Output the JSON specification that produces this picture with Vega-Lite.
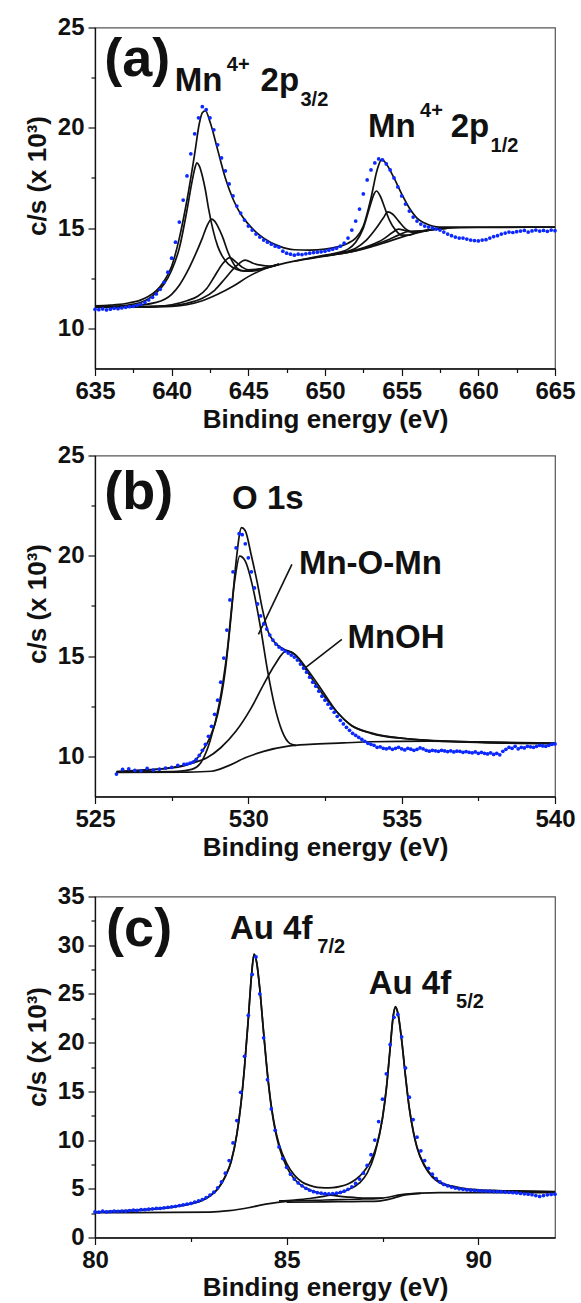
{
  "$schema": "https://vega.github.io/schema/vega-lite/v6.json",
  "padding": {"left": 23, "top": 14.5, "right": 5, "bottom": 2},
  "spacing": 9,
  "bounds": "full",
  "config": {
    "font": "Liberation Sans",
    "view": {"stroke": "#555555", "strokeWidth": 1.2},
    "axis": {
      "labelFont": "Liberation Sans", "labelFontSize": 24, "labelFontWeight": "bold", "labelColor": "#111111",
      "titleFont": "Liberation Sans", "titleFontSize": 26, "titleFontWeight": "bold", "titleColor": "#111111",
      "domainColor": "#111111", "domainWidth": 1.3, "tickColor": "#111111", "tickWidth": 1.2,
      "grid": false, "labelOverlap": false, "labelFlush": false, "labelPadding": 4
    }
  },
  "datasets": {
    "a_fit": [
      {"s":"env","x":635,"y":11.12},{"s":"env","x":636,"y":11.16},{"s":"env","x":637,"y":11.24},{"s":"env","x":638,"y":11.42},{"s":"env","x":638.5,"y":11.6},{"s":"env","x":639,"y":11.88},{"s":"env","x":639.5,"y":12.35},{"s":"env","x":640,"y":13.1},{"s":"env","x":640.5,"y":14.5},{"s":"env","x":641,"y":16.4},{"s":"env","x":641.5,"y":18.7},{"s":"env","x":641.8,"y":20.2},{"s":"env","x":642,"y":20.75},{"s":"env","x":642.2,"y":20.85},{"s":"env","x":642.5,"y":20.3},{"s":"env","x":643,"y":18.9},{"s":"env","x":643.5,"y":17.5},{"s":"env","x":644,"y":16.45},{"s":"env","x":644.5,"y":15.7},{"s":"env","x":645,"y":15.2},{"s":"env","x":645.5,"y":14.8},{"s":"env","x":646,"y":14.5},{"s":"env","x":647,"y":14.1},{"s":"env","x":648,"y":13.92},{"s":"env","x":649,"y":13.9},{"s":"env","x":650,"y":13.95},{"s":"env","x":651,"y":14.1},{"s":"env","x":651.5,"y":14.25},{"s":"env","x":652,"y":14.5},{"s":"env","x":652.5,"y":15.1},{"s":"env","x":653,"y":16.5},{"s":"env","x":653.4,"y":17.9},{"s":"env","x":653.7,"y":18.43},{"s":"env","x":654,"y":18.2},{"s":"env","x":654.5,"y":17.5},{"s":"env","x":655,"y":16.7},{"s":"env","x":655.5,"y":16.0},{"s":"env","x":656,"y":15.5},{"s":"env","x":656.5,"y":15.25},{"s":"env","x":657,"y":15.1},{"s":"env","x":657.5,"y":15.05},{"s":"env","x":658,"y":15.05},{"s":"env","x":665,"y":15.05},
      {"s":"bg","x":635,"y":11.05},{"s":"bg","x":638,"y":11.06},{"s":"bg","x":640,"y":11.1},{"s":"bg","x":641,"y":11.18},{"s":"bg","x":642,"y":11.38},{"s":"bg","x":643,"y":11.7},{"s":"bg","x":644,"y":12.1},{"s":"bg","x":645,"y":12.58},{"s":"bg","x":646,"y":12.95},{"s":"bg","x":647,"y":13.18},{"s":"bg","x":648,"y":13.35},{"s":"bg","x":649,"y":13.48},{"s":"bg","x":650,"y":13.6},{"s":"bg","x":651,"y":13.72},{"s":"bg","x":652,"y":13.86},{"s":"bg","x":653,"y":14.06},{"s":"bg","x":654,"y":14.3},{"s":"bg","x":655,"y":14.55},{"s":"bg","x":656,"y":14.76},{"s":"bg","x":657,"y":14.92},{"s":"bg","x":658,"y":15.0},{"s":"bg","x":660,"y":15.03},{"s":"bg","x":665,"y":15.05},
      {"s":"c1","x":635,"y":11.08},{"s":"c1","x":636,"y":11.1},{"s":"c1","x":637,"y":11.15},{"s":"c1","x":638,"y":11.3},{"s":"c1","x":638.5,"y":11.48},{"s":"c1","x":639,"y":11.78},{"s":"c1","x":639.5,"y":12.2},{"s":"c1","x":640,"y":12.9},{"s":"c1","x":640.5,"y":14.0},{"s":"c1","x":641,"y":15.9},{"s":"c1","x":641.3,"y":17.2},{"s":"c1","x":641.5,"y":17.95},{"s":"c1","x":641.65,"y":18.25},{"s":"c1","x":641.8,"y":18.1},{"s":"c1","x":642,"y":17.6},{"s":"c1","x":642.2,"y":16.9},{"s":"c1","x":642.4,"y":16.0},{"s":"c1","x":642.7,"y":14.9},{"s":"c1","x":643,"y":14.1},{"s":"c1","x":643.3,"y":13.6},{"s":"c1","x":643.7,"y":13.2},{"s":"c1","x":644.2,"y":12.95},{"s":"c1","x":644.8,"y":12.85},{"s":"c1","x":645.5,"y":12.9},{"s":"c1","x":646.2,"y":13.02},{"s":"c1","x":647,"y":13.2},
      {"s":"c2","x":635,"y":11.06},{"s":"c2","x":637,"y":11.1},{"s":"c2","x":639,"y":11.3},{"s":"c2","x":640,"y":11.7},{"s":"c2","x":640.5,"y":12.15},{"s":"c2","x":641,"y":12.8},{"s":"c2","x":641.5,"y":13.6},{"s":"c2","x":642,"y":14.5},{"s":"c2","x":642.3,"y":15.1},{"s":"c2","x":642.6,"y":15.45},{"s":"c2","x":642.8,"y":15.35},{"s":"c2","x":643,"y":15.1},{"s":"c2","x":643.3,"y":14.6},{"s":"c2","x":643.7,"y":13.75},{"s":"c2","x":644.1,"y":13.15},{"s":"c2","x":644.6,"y":12.88},{"s":"c2","x":645.2,"y":12.85},{"s":"c2","x":646,"y":13.0},{"s":"c2","x":647,"y":13.2},
      {"s":"c3","x":636,"y":11.05},{"s":"c3","x":639,"y":11.1},{"s":"c3","x":640,"y":11.18},{"s":"c3","x":641,"y":11.38},{"s":"c3","x":641.7,"y":11.6},{"s":"c3","x":642.3,"y":12.0},{"s":"c3","x":642.8,"y":12.6},{"s":"c3","x":643.3,"y":13.2},{"s":"c3","x":643.8,"y":13.53},{"s":"c3","x":644.2,"y":13.3},{"s":"c3","x":644.6,"y":13.05},{"s":"c3","x":645,"y":12.92},{"s":"c3","x":645.6,"y":12.95},{"s":"c3","x":646.3,"y":13.05},{"s":"c3","x":647,"y":13.2},
      {"s":"c4","x":636,"y":11.05},{"s":"c4","x":640,"y":11.13},{"s":"c4","x":641,"y":11.25},{"s":"c4","x":642,"y":11.5},{"s":"c4","x":642.8,"y":11.9},{"s":"c4","x":643.5,"y":12.5},{"s":"c4","x":644.2,"y":13.1},{"s":"c4","x":644.8,"y":13.4},{"s":"c4","x":645.3,"y":13.25},{"s":"c4","x":645.8,"y":13.15},{"s":"c4","x":646.4,"y":13.1},{"s":"c4","x":647,"y":13.2},
      {"s":"c5","x":648,"y":13.36},{"s":"c5","x":649,"y":13.5},{"s":"c5","x":650,"y":13.65},{"s":"c5","x":651,"y":13.8},{"s":"c5","x":651.5,"y":13.95},{"s":"c5","x":652,"y":14.3},{"s":"c5","x":652.5,"y":15.0},{"s":"c5","x":652.9,"y":16.0},{"s":"c5","x":653.2,"y":16.7},{"s":"c5","x":653.35,"y":16.85},{"s":"c5","x":653.6,"y":16.6},{"s":"c5","x":653.9,"y":16.0},{"s":"c5","x":654.2,"y":15.4},{"s":"c5","x":654.6,"y":14.9},{"s":"c5","x":655,"y":14.65},{"s":"c5","x":655.5,"y":14.65},{"s":"c5","x":656,"y":14.8},{"s":"c5","x":657,"y":14.93},{"s":"c5","x":658,"y":15.0},
      {"s":"c6","x":649,"y":13.5},{"s":"c6","x":650,"y":13.62},{"s":"c6","x":651,"y":13.76},{"s":"c6","x":652,"y":14.0},{"s":"c6","x":652.7,"y":14.4},{"s":"c6","x":653.3,"y":14.95},{"s":"c6","x":653.8,"y":15.5},{"s":"c6","x":654.1,"y":15.81},{"s":"c6","x":654.4,"y":15.7},{"s":"c6","x":654.8,"y":15.35},{"s":"c6","x":655.2,"y":15.0},{"s":"c6","x":655.7,"y":14.82},{"s":"c6","x":656.3,"y":14.85},{"s":"c6","x":657,"y":14.93},{"s":"c6","x":658,"y":15.0},
      {"s":"c7","x":650,"y":13.62},{"s":"c7","x":651,"y":13.74},{"s":"c7","x":652,"y":13.9},{"s":"c7","x":653,"y":14.15},{"s":"c7","x":653.8,"y":14.45},{"s":"c7","x":654.4,"y":14.78},{"s":"c7","x":654.8,"y":14.95},{"s":"c7","x":655.2,"y":14.88},{"s":"c7","x":655.7,"y":14.8},{"s":"c7","x":656.3,"y":14.85},{"s":"c7","x":657,"y":14.93},{"s":"c7","x":658,"y":15.0},
      {"s":"c8","x":650,"y":13.62},{"s":"c8","x":652,"y":13.88},{"s":"c8","x":653,"y":14.1},{"s":"c8","x":654,"y":14.38},{"s":"c8","x":654.8,"y":14.65},{"s":"c8","x":655.4,"y":14.83},{"s":"c8","x":655.9,"y":14.85},{"s":"c8","x":656.5,"y":14.85},{"s":"c8","x":657.2,"y":14.95},{"s":"c8","x":658,"y":15.0}
    ],
    "a_pts": [
      {"x":635,"y":10.95},{"x":635.25,"y":10.93},{"x":635.5,"y":10.97},{"x":635.75,"y":10.92},{"x":636,"y":10.96},{"x":636.25,"y":11.0},{"x":636.5,"y":10.98},{"x":636.75,"y":11.02},{"x":637,"y":11.05},{"x":637.25,"y":11.08},{"x":637.5,"y":11.1},{"x":637.75,"y":11.15},{"x":638,"y":11.2},{"x":638.25,"y":11.3},{"x":638.5,"y":11.42},{"x":638.75,"y":11.55},{"x":639,"y":11.72},{"x":639.25,"y":11.95},{"x":639.5,"y":12.3},{"x":639.75,"y":12.8},{"x":640,"y":13.5},{"x":640.25,"y":14.3},{"x":640.5,"y":15.3},{"x":640.75,"y":16.4},{"x":641,"y":17.6},{"x":641.25,"y":18.7},{"x":641.5,"y":19.7},{"x":641.75,"y":20.5},{"x":642,"y":21.05},{"x":642.25,"y":20.9},{"x":642.5,"y":20.5},{"x":642.75,"y":19.9},{"x":643,"y":19.15},{"x":643.25,"y":18.5},{"x":643.5,"y":17.85},{"x":643.75,"y":17.2},{"x":644,"y":16.6},{"x":644.25,"y":16.1},{"x":644.5,"y":15.75},{"x":644.75,"y":15.4},{"x":645,"y":15.1},{"x":645.25,"y":14.9},{"x":645.5,"y":14.7},{"x":645.75,"y":14.55},{"x":646,"y":14.4},{"x":646.25,"y":14.3},{"x":646.5,"y":14.2},{"x":646.75,"y":14.1},{"x":647,"y":14.05},{"x":647.25,"y":13.85},{"x":647.5,"y":13.75},{"x":647.75,"y":13.7},{"x":648,"y":13.65},{"x":648.25,"y":13.7},{"x":648.5,"y":13.68},{"x":648.75,"y":13.72},{"x":649,"y":13.75},{"x":649.25,"y":13.78},{"x":649.5,"y":13.8},{"x":649.75,"y":13.82},{"x":650,"y":13.85},{"x":650.25,"y":13.9},{"x":650.5,"y":13.95},{"x":650.75,"y":14.0},{"x":651,"y":14.1},{"x":651.25,"y":14.25},{"x":651.5,"y":14.5},{"x":651.75,"y":14.9},{"x":652,"y":15.35},{"x":652.25,"y":15.95},{"x":652.5,"y":16.7},{"x":652.75,"y":17.4},{"x":653,"y":17.9},{"x":653.25,"y":18.25},{"x":653.5,"y":18.45},{"x":653.75,"y":18.4},{"x":654,"y":18.2},{"x":654.25,"y":17.9},{"x":654.5,"y":17.5},{"x":654.75,"y":17.05},{"x":655,"y":16.6},{"x":655.25,"y":16.2},{"x":655.5,"y":15.85},{"x":655.75,"y":15.55},{"x":656,"y":15.35},{"x":656.25,"y":15.2},{"x":656.5,"y":15.1},{"x":656.75,"y":15.05},{"x":657,"y":15.0},{"x":657.25,"y":14.95},{"x":657.5,"y":14.9},{"x":657.75,"y":14.8},{"x":658,"y":14.7},{"x":658.25,"y":14.62},{"x":658.5,"y":14.55},{"x":658.75,"y":14.5},{"x":659,"y":14.5},{"x":659.25,"y":14.45},{"x":659.5,"y":14.4},{"x":659.75,"y":14.38},{"x":660,"y":14.36},{"x":660.25,"y":14.4},{"x":660.5,"y":14.42},{"x":660.75,"y":14.5},{"x":661,"y":14.58},{"x":661.25,"y":14.62},{"x":661.5,"y":14.7},{"x":661.75,"y":14.75},{"x":662,"y":14.8},{"x":662.25,"y":14.78},{"x":662.5,"y":14.82},{"x":662.75,"y":14.85},{"x":663,"y":14.88},{"x":663.25,"y":14.8},{"x":663.5,"y":14.86},{"x":663.75,"y":14.9},{"x":664,"y":14.85},{"x":664.25,"y":14.88},{"x":664.5,"y":14.84},{"x":664.75,"y":14.9},{"x":665,"y":14.87}
    ],
    "a_txt": [
      {"role":"tag","x":635.6,"y":22.57,"t":"(a)"},
      {"role":"main","x":640.2,"y":21.82,"t":"Mn"},{"role":"sup","x":643.6,"y":22.82,"t":"4+"},{"role":"main","x":645.8,"y":21.82,"t":"2p"},{"role":"sub","x":648.4,"y":21.08,"t":"3/2"},
      {"role":"main","x":652.8,"y":19.53,"t":"Mn"},{"role":"sup","x":656.2,"y":20.53,"t":"4+"},{"role":"main","x":658.2,"y":19.53,"t":"2p"},{"role":"sub","x":660.8,"y":18.78,"t":"1/2"}
    ],
    "b_fit": [
      {"s":"env","x":525.7,"y":9.24},{"s":"env","x":526.5,"y":9.32},{"s":"env","x":527.5,"y":9.42},{"s":"env","x":528,"y":9.58},{"s":"env","x":528.3,"y":9.85},{"s":"env","x":528.5,"y":10.25},{"s":"env","x":528.75,"y":10.95},{"s":"env","x":529,"y":12.1},{"s":"env","x":529.25,"y":14.3},{"s":"env","x":529.45,"y":17.2},{"s":"env","x":529.6,"y":19.7},{"s":"env","x":529.78,"y":21.4},{"s":"env","x":529.9,"y":21.25},{"s":"env","x":530.1,"y":20.0},{"s":"env","x":530.3,"y":18.6},{"s":"env","x":530.45,"y":17.4},{"s":"env","x":530.65,"y":16.2},{"s":"env","x":530.85,"y":15.7},{"s":"env","x":531.15,"y":15.35},{"s":"env","x":531.5,"y":15.1},{"s":"env","x":531.8,"y":14.5},{"s":"env","x":532.15,"y":13.7},{"s":"env","x":532.5,"y":12.95},{"s":"env","x":532.9,"y":12.2},{"s":"env","x":533.35,"y":11.55},{"s":"env","x":534,"y":11.15},{"s":"env","x":535.2,"y":10.87},{"s":"env","x":536.4,"y":10.75},{"s":"env","x":537.6,"y":10.69},{"s":"env","x":540,"y":10.64},
      {"s":"o1","x":525.7,"y":9.22},{"s":"o1","x":527.7,"y":9.26},{"s":"o1","x":528.15,"y":9.35},{"s":"o1","x":528.45,"y":9.68},{"s":"o1","x":528.75,"y":10.75},{"s":"o1","x":529.05,"y":12.6},{"s":"o1","x":529.3,"y":15.1},{"s":"o1","x":529.55,"y":18.7},{"s":"o1","x":529.72,"y":19.98},{"s":"o1","x":529.9,"y":19.73},{"s":"o1","x":530.15,"y":18.4},{"s":"o1","x":530.4,"y":16.4},{"s":"o1","x":530.63,"y":14.25},{"s":"o1","x":530.87,"y":12.43},{"s":"o1","x":531.1,"y":11.26},{"s":"o1","x":531.35,"y":10.65},{"s":"o1","x":531.55,"y":10.55},
      {"s":"o2","x":525.7,"y":9.23},{"s":"o2","x":527.3,"y":9.4},{"s":"o2","x":528.15,"y":9.66},{"s":"o2","x":528.65,"y":9.93},{"s":"o2","x":529.1,"y":10.43},{"s":"o2","x":529.6,"y":11.26},{"s":"o2","x":530.1,"y":12.43},{"s":"o2","x":530.5,"y":13.59},{"s":"o2","x":530.87,"y":14.58},{"s":"o2","x":531.23,"y":15.25},{"s":"o2","x":531.55,"y":15.05},{"s":"o2","x":531.9,"y":14.38},{"s":"o2","x":532.4,"y":13.3},{"s":"o2","x":532.9,"y":12.2},{"s":"o2","x":533.35,"y":11.55},{"s":"o2","x":534,"y":11.17},{"s":"o2","x":535.2,"y":10.88},{"s":"o2","x":537.6,"y":10.71},{"s":"o2","x":540,"y":10.65},
      {"s":"bg","x":525.7,"y":9.2},{"s":"bg","x":528,"y":9.22},{"s":"bg","x":528.8,"y":9.26},{"s":"bg","x":529.3,"y":9.5},{"s":"bg","x":529.9,"y":9.93},{"s":"bg","x":530.5,"y":10.25},{"s":"bg","x":531.3,"y":10.51},{"s":"bg","x":532,"y":10.6},{"s":"bg","x":533.1,"y":10.67},{"s":"bg","x":534,"y":10.73},{"s":"bg","x":535.9,"y":10.76},{"s":"bg","x":537.5,"y":10.72},{"s":"bg","x":540,"y":10.66}
    ],
    "b_pts": [
      {"x":525.7,"y":9.12},{"x":525.9,"y":9.35},{"x":526.1,"y":9.38},{"x":526.3,"y":9.3},{"x":526.5,"y":9.28},{"x":526.7,"y":9.4},{"x":526.9,"y":9.32},{"x":527.1,"y":9.36},{"x":527.3,"y":9.42},{"x":527.5,"y":9.45},{"x":527.7,"y":9.55},{"x":527.9,"y":9.6},
      {"x":528,"y":9.62},{"x":528.1,"y":9.66},{"x":528.2,"y":9.72},{"x":528.3,"y":9.85},{"x":528.4,"y":10.05},{"x":528.5,"y":10.3},{"x":528.6,"y":10.6},{"x":528.7,"y":11.0},{"x":528.8,"y":11.5},{"x":528.9,"y":12.1},{"x":529,"y":12.8},{"x":529.1,"y":13.7},{"x":529.2,"y":14.9},{"x":529.3,"y":16.3},{"x":529.4,"y":17.8},{"x":529.5,"y":19.2},{"x":529.6,"y":20.4},{"x":529.7,"y":21.1},{"x":529.8,"y":21.05},{"x":529.9,"y":20.6},{"x":530,"y":19.9},{"x":530.1,"y":19.2},{"x":530.2,"y":18.4},{"x":530.3,"y":17.6},{"x":530.4,"y":17.0},{"x":530.5,"y":16.6},{"x":530.6,"y":16.35},{"x":530.7,"y":16.05},{"x":530.8,"y":15.8},{"x":530.9,"y":15.6},{"x":531,"y":15.45},{"x":531.1,"y":15.35},{"x":531.2,"y":15.25},{"x":531.3,"y":15.15},{"x":531.4,"y":15.05},{"x":531.5,"y":14.95},{"x":531.6,"y":14.8},{"x":531.7,"y":14.6},{"x":531.8,"y":14.4},{"x":531.9,"y":14.2},{"x":532,"y":13.95},{"x":532.1,"y":13.7},{"x":532.2,"y":13.5},{"x":532.3,"y":13.25},{"x":532.4,"y":13.0},{"x":532.5,"y":12.8},{"x":532.6,"y":12.6},{"x":532.7,"y":12.4},{"x":532.8,"y":12.2},{"x":532.9,"y":12.0},{"x":533,"y":11.8},{"x":533.1,"y":11.62},{"x":533.2,"y":11.45},{"x":533.3,"y":11.3},{"x":533.4,"y":11.15},{"x":533.5,"y":11.05},{"x":533.6,"y":10.95},{"x":533.7,"y":10.85},{"x":533.8,"y":10.75},{"x":533.9,"y":10.65},{"x":534,"y":10.6},{"x":534.1,"y":10.55},{"x":534.2,"y":10.45},{"x":534.3,"y":10.48},{"x":534.4,"y":10.4},{"x":534.5,"y":10.38},{"x":534.6,"y":10.42},{"x":534.7,"y":10.35},{"x":534.8,"y":10.4},{"x":534.9,"y":10.45},{"x":535,"y":10.38},{"x":535.1,"y":10.32},{"x":535.2,"y":10.4},{"x":535.3,"y":10.36},{"x":535.4,"y":10.3},{"x":535.5,"y":10.35},{"x":535.6,"y":10.42},{"x":535.7,"y":10.38},{"x":535.8,"y":10.3},{"x":535.9,"y":10.26},{"x":536,"y":10.3},{"x":536.1,"y":10.28},{"x":536.2,"y":10.25},{"x":536.3,"y":10.3},{"x":536.4,"y":10.27},{"x":536.5,"y":10.24},{"x":536.6,"y":10.28},{"x":536.7,"y":10.22},{"x":536.8,"y":10.26},{"x":536.9,"y":10.25},{"x":537,"y":10.2},{"x":537.1,"y":10.24},{"x":537.2,"y":10.2},{"x":537.3,"y":10.18},{"x":537.4,"y":10.22},{"x":537.5,"y":10.15},{"x":537.6,"y":10.2},{"x":537.7,"y":10.15},{"x":537.8,"y":10.12},{"x":537.9,"y":10.18},{"x":538,"y":10.1},{"x":538.1,"y":10.15},{"x":538.2,"y":10.08},{"x":538.3,"y":10.25},{"x":538.4,"y":10.35},{"x":538.5,"y":10.45},{"x":538.6,"y":10.4},{"x":538.7,"y":10.5},{"x":538.8,"y":10.38},{"x":538.9,"y":10.45},{"x":539,"y":10.42},{"x":539.1,"y":10.5},{"x":539.2,"y":10.48},{"x":539.3,"y":10.45},{"x":539.4,"y":10.5},{"x":539.5,"y":10.55},{"x":539.6,"y":10.52},{"x":539.7,"y":10.5},{"x":539.8,"y":10.55},{"x":539.9,"y":10.6},{"x":540,"y":10.62}
    ],
    "b_txt": [
      {"role":"tag","x":525.3,"y":22.32,"t":"(b)"},
      {"role":"main","x":529.47,"y":22.32,"t":"O 1s"},
      {"role":"main","x":531.65,"y":19.08,"t":"Mn-O-Mn"},
      {"role":"main","x":533.23,"y":15.39,"t":"MnOH"}
    ],
    "b_lead": [
      {"x":531.42,"y":19.57,"x2":530.33,"y2":16.08},
      {"x":533.05,"y":15.83,"x2":531.78,"y2":14.33}
    ],
    "c_fit": [
      {"s":"env","x":80,"y":2.6},{"s":"env","x":80.5,"y":2.7},{"s":"env","x":81,"y":2.8},{"s":"env","x":81.5,"y":2.95},{"s":"env","x":82,"y":3.15},{"s":"env","x":82.5,"y":3.5},{"s":"env","x":82.8,"y":3.85},{"s":"env","x":83,"y":4.3},{"s":"env","x":83.2,"y":5.0},{"s":"env","x":83.4,"y":6.3},{"s":"env","x":83.55,"y":7.8},{"s":"env","x":83.7,"y":10.6},{"s":"env","x":83.8,"y":13.5},{"s":"env","x":83.9,"y":17.5},{"s":"env","x":84,"y":22.5},{"s":"env","x":84.08,"y":26.8},{"s":"env","x":84.15,"y":29.1},{"s":"env","x":84.22,"y":28.2},{"s":"env","x":84.3,"y":25.5},{"s":"env","x":84.4,"y":21.0},{"s":"env","x":84.5,"y":16.8},{"s":"env","x":84.6,"y":13.5},{"s":"env","x":84.7,"y":11.2},{"s":"env","x":84.8,"y":9.6},{"s":"env","x":85,"y":7.6},{"s":"env","x":85.2,"y":6.4},{"s":"env","x":85.4,"y":5.7},{"s":"env","x":85.6,"y":5.35},{"s":"env","x":85.8,"y":5.15},{"s":"env","x":86,"y":5.1},{"s":"env","x":86.2,"y":5.12},{"s":"env","x":86.4,"y":5.25},{"s":"env","x":86.6,"y":5.5},{"s":"env","x":86.8,"y":5.95},{"s":"env","x":87,"y":6.7},{"s":"env","x":87.2,"y":7.9},{"s":"env","x":87.35,"y":9.5},{"s":"env","x":87.5,"y":12.3},{"s":"env","x":87.6,"y":15.3},{"s":"env","x":87.7,"y":19.5},{"s":"env","x":87.78,"y":22.8},{"s":"env","x":87.84,"y":23.7},{"s":"env","x":87.9,"y":23.1},{"s":"env","x":88,"y":20.3},{"s":"env","x":88.1,"y":16.6},{"s":"env","x":88.2,"y":13.3},{"s":"env","x":88.3,"y":11.0},{"s":"env","x":88.4,"y":9.3},{"s":"env","x":88.6,"y":7.4},{"s":"env","x":88.8,"y":6.3},{"s":"env","x":89,"y":5.7},{"s":"env","x":89.3,"y":5.3},{"s":"env","x":89.6,"y":5.05},{"s":"env","x":90,"y":4.9},{"s":"env","x":90.5,"y":4.82},{"s":"env","x":91,"y":4.78},{"s":"env","x":92,"y":4.72},
      {"s":"p7","x":80,"y":2.58},{"s":"p7","x":81,"y":2.75},{"s":"p7","x":82,"y":3.1},{"s":"p7","x":82.5,"y":3.45},{"s":"p7","x":82.8,"y":3.8},{"s":"p7","x":83,"y":4.25},{"s":"p7","x":83.2,"y":4.95},{"s":"p7","x":83.4,"y":6.25},{"s":"p7","x":83.55,"y":7.75},{"s":"p7","x":83.7,"y":10.55},{"s":"p7","x":83.8,"y":13.45},{"s":"p7","x":83.9,"y":17.45},{"s":"p7","x":84,"y":22.45},{"s":"p7","x":84.08,"y":26.75},{"s":"p7","x":84.15,"y":29.05},{"s":"p7","x":84.22,"y":28.15},{"s":"p7","x":84.3,"y":25.45},{"s":"p7","x":84.4,"y":20.95},{"s":"p7","x":84.5,"y":16.7},{"s":"p7","x":84.6,"y":13.35},{"s":"p7","x":84.7,"y":11.0},{"s":"p7","x":84.8,"y":9.35},{"s":"p7","x":85,"y":7.25},{"s":"p7","x":85.2,"y":6.0},{"s":"p7","x":85.4,"y":5.3},{"s":"p7","x":85.6,"y":4.9},{"s":"p7","x":85.8,"y":4.62},{"s":"p7","x":86,"y":4.45},{"s":"p7","x":86.3,"y":4.28},{"s":"p7","x":86.6,"y":4.15},{"s":"p7","x":87,"y":4.05},{"s":"p7","x":87.5,"y":4.05},
      {"s":"p5","x":84.8,"y":3.75},{"s":"p5","x":85.2,"y":3.85},{"s":"p5","x":85.6,"y":4.0},{"s":"p5","x":86,"y":4.25},{"s":"p5","x":86.3,"y":4.5},{"s":"p5","x":86.6,"y":4.9},{"s":"p5","x":86.9,"y":5.6},{"s":"p5","x":87.1,"y":6.6},{"s":"p5","x":87.3,"y":8.6},{"s":"p5","x":87.5,"y":12.2},{"s":"p5","x":87.6,"y":15.2},{"s":"p5","x":87.7,"y":19.4},{"s":"p5","x":87.78,"y":22.7},{"s":"p5","x":87.84,"y":23.6},{"s":"p5","x":87.9,"y":23.0},{"s":"p5","x":88,"y":20.2},{"s":"p5","x":88.1,"y":16.5},{"s":"p5","x":88.2,"y":13.2},{"s":"p5","x":88.3,"y":10.9},{"s":"p5","x":88.4,"y":9.2},{"s":"p5","x":88.6,"y":7.3},{"s":"p5","x":88.8,"y":6.2},{"s":"p5","x":89,"y":5.6},{"s":"p5","x":89.3,"y":5.2},{"s":"p5","x":89.6,"y":4.95},{"s":"p5","x":90,"y":4.8},{"s":"p5","x":91,"y":4.7},{"s":"p5","x":92,"y":4.68},
      {"s":"bg1","x":80,"y":2.55},{"s":"bg1","x":82,"y":2.58},{"s":"bg1","x":83,"y":2.6},{"s":"bg1","x":83.5,"y":2.75},{"s":"bg1","x":84,"y":3.05},{"s":"bg1","x":84.5,"y":3.45},{"s":"bg1","x":85,"y":3.7},{"s":"bg1","x":86,"y":3.85},{"s":"bg1","x":87,"y":3.95},{"s":"bg1","x":87.5,"y":4.05},{"s":"bg1","x":88,"y":4.4},{"s":"bg1","x":88.5,"y":4.55},{"s":"bg1","x":89,"y":4.6},{"s":"bg1","x":92,"y":4.6},
      {"s":"bg2","x":85,"y":3.62},{"s":"bg2","x":86,"y":3.66},{"s":"bg2","x":87,"y":3.7},{"s":"bg2","x":87.4,"y":3.74},{"s":"bg2","x":87.7,"y":3.95},{"s":"bg2","x":88,"y":4.3},{"s":"bg2","x":88.5,"y":4.52}
    ],
    "c_pts": [
      {"x":80,"y":2.62},{"x":80.1,"y":2.6},{"x":80.2,"y":2.7},{"x":80.3,"y":2.62},{"x":80.4,"y":2.66},{"x":80.5,"y":2.7},{"x":80.6,"y":2.68},{"x":80.7,"y":2.72},{"x":80.8,"y":2.7},{"x":80.9,"y":2.76},{"x":81,"y":2.8},{"x":81.1,"y":2.78},{"x":81.2,"y":2.85},{"x":81.3,"y":2.86},{"x":81.4,"y":2.9},{"x":81.5,"y":2.95},{"x":81.6,"y":2.98},{"x":81.7,"y":3.0},{"x":81.8,"y":3.05},{"x":81.9,"y":3.1},{"x":82,"y":3.15},{"x":82.1,"y":3.2},{"x":82.2,"y":3.28},{"x":82.3,"y":3.35},{"x":82.4,"y":3.42},{"x":82.5,"y":3.5},{"x":82.6,"y":3.62},{"x":82.7,"y":3.75},{"x":82.8,"y":3.9},{"x":82.9,"y":4.1},{"x":83,"y":4.35},{"x":83.1,"y":4.65},{"x":83.2,"y":5.1},{"x":83.3,"y":5.7},{"x":83.4,"y":6.6},{"x":83.5,"y":7.9},{"x":83.6,"y":9.7},{"x":83.7,"y":12.0},{"x":83.8,"y":14.9},{"x":83.9,"y":18.6},{"x":84,"y":22.8},{"x":84.1,"y":27.0},{"x":84.2,"y":28.8},{"x":84.3,"y":25.0},{"x":84.4,"y":20.5},{"x":84.5,"y":16.2},{"x":84.6,"y":13.2},{"x":84.7,"y":11.0},{"x":84.8,"y":9.3},{"x":84.9,"y":8.1},{"x":85,"y":7.2},{"x":85.1,"y":6.5},{"x":85.2,"y":6.0},{"x":85.3,"y":5.6},{"x":85.4,"y":5.3},{"x":85.5,"y":5.05},{"x":85.6,"y":4.85},{"x":85.7,"y":4.7},{"x":85.8,"y":4.6},{"x":85.9,"y":4.55},{"x":86,"y":4.5},{"x":86.1,"y":4.48},{"x":86.2,"y":4.5},{"x":86.3,"y":4.55},{"x":86.4,"y":4.62},{"x":86.5,"y":4.75},{"x":86.6,"y":4.95},{"x":86.7,"y":5.2},{"x":86.8,"y":5.55},{"x":86.9,"y":6.0},{"x":87,"y":6.6},{"x":87.1,"y":7.4},{"x":87.2,"y":8.5},{"x":87.3,"y":10.0},{"x":87.4,"y":11.9},{"x":87.5,"y":14.2},{"x":87.6,"y":16.8},{"x":87.7,"y":19.8},{"x":87.8,"y":22.6},{"x":87.9,"y":22.9},{"x":88,"y":20.6},{"x":88.1,"y":17.4},{"x":88.2,"y":14.4},{"x":88.3,"y":12.1},{"x":88.4,"y":10.3},{"x":88.5,"y":8.9},{"x":88.6,"y":7.9},{"x":88.7,"y":7.1},{"x":88.8,"y":6.5},{"x":88.9,"y":6.05},{"x":89,"y":5.7},{"x":89.1,"y":5.45},{"x":89.2,"y":5.3},{"x":89.3,"y":5.18},{"x":89.4,"y":5.08},{"x":89.5,"y":5.0},{"x":89.6,"y":4.95},{"x":89.7,"y":4.9},{"x":89.8,"y":4.86},{"x":89.9,"y":4.83},{"x":90,"y":4.8},{"x":90.1,"y":4.78},{"x":90.2,"y":4.76},{"x":90.3,"y":4.75},{"x":90.4,"y":4.72},{"x":90.5,"y":4.7},{"x":90.6,"y":4.7},{"x":90.7,"y":4.66},{"x":90.8,"y":4.64},{"x":90.9,"y":4.6},{"x":91,"y":4.58},{"x":91.1,"y":4.52},{"x":91.2,"y":4.48},{"x":91.3,"y":4.45},{"x":91.4,"y":4.4},{"x":91.5,"y":4.3},{"x":91.6,"y":4.22},{"x":91.7,"y":4.3},{"x":91.8,"y":4.38},{"x":91.9,"y":4.42},{"x":92,"y":4.45}
    ],
    "c_txt": [
      {"role":"tag","x":80.29,"y":29.88,"t":"(c)"},
      {"role":"main","x":83.52,"y":30.6,"t":"Au 4f"},{"role":"sub","x":85.8,"y":29.16,"t":"7/2"},
      {"role":"main","x":87.14,"y":24.96,"t":"Au 4f"},{"role":"sub","x":89.42,"y":23.53,"t":"5/2"}
    ]
  },
  "vconcat": [
    {
      "width": 460, "height": 341,
      "encoding": {
        "x": {"field": "x", "type": "quantitative",
          "scale": {"domain": [635, 665], "nice": false, "zero": false},
          "axis": {"title": "Binding energy (eV)", "titlePadding": 3,
            "values": [635, 637.5, 640, 642.5, 645, 647.5, 650, 652.5, 655, 657.5, 660, 662.5, 665],
            "labelExpr": "datum.value % 5 === 0 ? datum.label : ''",
            "tickSize": {"condition": {"test": "datum.value % 5 !== 0", "value": 4}, "value": 7}}},
        "y": {"field": "y", "type": "quantitative",
          "scale": {"domain": [8, 25], "nice": false, "zero": false},
          "axis": {"title": "c/s (x 10³)", "titlePadding": 7, "titleY": 148,
            "values": [10, 12.5, 15, 17.5, 20, 22.5, 25],
            "labelExpr": "datum.value % 5 === 0 ? datum.label : ''",
            "tickSize": {"condition": {"test": "datum.value % 5 !== 0", "value": 4}, "value": 7}}}
      },
      "layer": [
        {"data": {"name": "a_fit"}, "mark": {"type": "line", "interpolate": "monotone", "color": "#111111", "strokeWidth": 1.7}, "encoding": {"detail": {"field": "s"}}},
        {"data": {"name": "a_pts"}, "mark": {"type": "point", "filled": true, "size": 14, "color": "#0a28ff", "opacity": 1}},
        {"data": {"name": "a_txt"}, "transform": [{"filter": "datum.role === 'main'"}], "mark": {"type": "text", "align": "left", "baseline": "alphabetic", "fontSize": 33, "fontWeight": "bold", "color": "#111111"}, "encoding": {"text": {"field": "t"}}},
        {"data": {"name": "a_txt"}, "transform": [{"filter": "datum.role === 'sup' || datum.role === 'sub'"}], "mark": {"type": "text", "align": "left", "baseline": "alphabetic", "fontSize": 20, "fontWeight": "bold", "color": "#111111"}, "encoding": {"text": {"field": "t"}}},
        {"data": {"name": "a_txt"}, "transform": [{"filter": "datum.role === 'tag'"}], "mark": {"type": "text", "align": "left", "baseline": "alphabetic", "fontSize": 54, "fontWeight": "bold", "color": "#111111"}, "encoding": {"text": {"field": "t"}}}
      ]
    },
    {
      "width": 460, "height": 341,
      "encoding": {
        "x": {"field": "x", "type": "quantitative",
          "scale": {"domain": [525, 540], "nice": false, "zero": false},
          "axis": {"title": "Binding energy (eV)", "titlePadding": 3,
            "values": [525, 527.5, 530, 532.5, 535, 537.5, 540],
            "labelExpr": "datum.value % 5 === 0 ? datum.label : ''",
            "tickSize": {"condition": {"test": "datum.value % 5 !== 0", "value": 4}, "value": 7}}},
        "y": {"field": "y", "type": "quantitative",
          "scale": {"domain": [8, 25], "nice": false, "zero": false},
          "axis": {"title": "c/s (x 10³)", "titlePadding": 7, "titleY": 148,
            "values": [10, 12.5, 15, 17.5, 20, 22.5, 25],
            "labelExpr": "datum.value % 5 === 0 ? datum.label : ''",
            "tickSize": {"condition": {"test": "datum.value % 5 !== 0", "value": 4}, "value": 7}}}
      },
      "layer": [
        {"data": {"name": "b_fit"}, "mark": {"type": "line", "interpolate": "monotone", "color": "#111111", "strokeWidth": 1.7}, "encoding": {"detail": {"field": "s"}}},
        {"data": {"name": "b_lead"}, "mark": {"type": "rule", "color": "#111111", "strokeWidth": 1.6}, "encoding": {"x2": {"field": "x2"}, "y2": {"field": "y2"}}},
        {"data": {"name": "b_pts"}, "mark": {"type": "point", "filled": true, "size": 14, "color": "#0a28ff", "opacity": 1}},
        {"data": {"name": "b_txt"}, "transform": [{"filter": "datum.role === 'main'"}], "mark": {"type": "text", "align": "left", "baseline": "alphabetic", "fontSize": 33, "fontWeight": "bold", "color": "#111111"}, "encoding": {"text": {"field": "t"}}},
        {"data": {"name": "b_txt"}, "transform": [{"filter": "datum.role === 'tag'"}], "mark": {"type": "text", "align": "left", "baseline": "alphabetic", "fontSize": 54, "fontWeight": "bold", "color": "#111111"}, "encoding": {"text": {"field": "t"}}}
      ]
    },
    {
      "width": 460, "height": 341,
      "title": {"text": " ", "fontSize": 1, "offset": 11.5},
      "encoding": {
        "x": {"field": "x", "type": "quantitative",
          "scale": {"domain": [80, 92], "nice": false, "zero": false},
          "axis": {"title": "Binding energy (eV)", "titlePadding": 2,
            "values": [80, 82.5, 85, 87.5, 90],
            "labelExpr": "datum.value % 5 === 0 ? datum.label : ''",
            "tickSize": {"condition": {"test": "datum.value % 5 !== 0", "value": 4}, "value": 7}}},
        "y": {"field": "y", "type": "quantitative",
          "scale": {"domain": [0, 35], "nice": false, "zero": false},
          "axis": {"title": "c/s (x 10³)", "titlePadding": 7, "titleY": 150,
            "values": [0, 2.5, 5, 7.5, 10, 12.5, 15, 17.5, 20, 22.5, 25, 27.5, 30, 32.5, 35],
            "labelExpr": "datum.value % 5 === 0 ? datum.label : ''",
            "tickSize": {"condition": {"test": "datum.value % 5 !== 0", "value": 4}, "value": 7}}}
      },
      "layer": [
        {"data": {"name": "c_fit"}, "mark": {"type": "line", "interpolate": "monotone", "color": "#111111", "strokeWidth": 1.7}, "encoding": {"detail": {"field": "s"}}},
        {"data": {"name": "c_pts"}, "mark": {"type": "point", "filled": true, "size": 14, "color": "#0a28ff", "opacity": 1}},
        {"data": {"name": "c_txt"}, "transform": [{"filter": "datum.role === 'main'"}], "mark": {"type": "text", "align": "left", "baseline": "alphabetic", "fontSize": 33, "fontWeight": "bold", "color": "#111111"}, "encoding": {"text": {"field": "t"}}},
        {"data": {"name": "c_txt"}, "transform": [{"filter": "datum.role === 'sub'"}], "mark": {"type": "text", "align": "left", "baseline": "alphabetic", "fontSize": 20, "fontWeight": "bold", "color": "#111111"}, "encoding": {"text": {"field": "t"}}},
        {"data": {"name": "c_txt"}, "transform": [{"filter": "datum.role === 'tag'"}], "mark": {"type": "text", "align": "left", "baseline": "alphabetic", "fontSize": 54, "fontWeight": "bold", "color": "#111111"}, "encoding": {"text": {"field": "t"}}}
      ]
    }
  ]
}
